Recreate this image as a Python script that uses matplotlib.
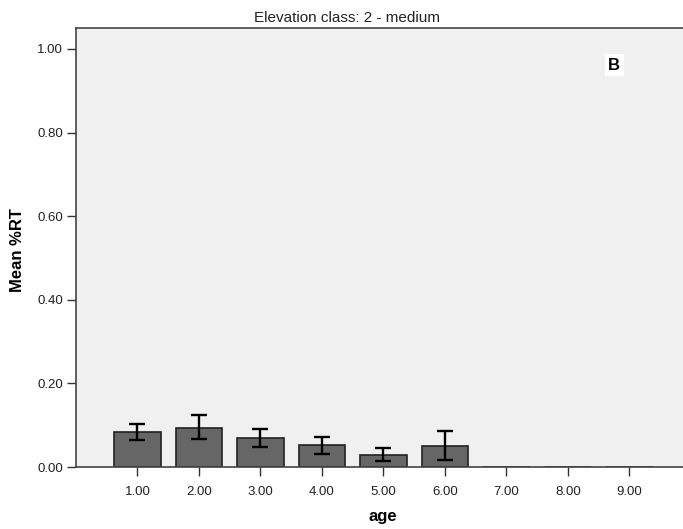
import matplotlib
matplotlib.use("Agg")
import matplotlib.pyplot as plt
import numpy as np

plt.rcParams['font.family'] = ['Liberation Sans', 'DejaVu Sans']

# Mean %RT by age class, with error bar limits
ages = [1, 2, 3, 4, 5, 6, 7, 8, 9]
age_labels = ["1.00", "2.00", "3.00", "4.00", "5.00", "6.00", "7.00", "8.00", "9.00"]
mean_rt = [0.083, 0.094, 0.070, 0.052, 0.029, 0.051, 0.0, 0.0, 0.0]
err_low = [0.065, 0.066, 0.049, 0.031, 0.014, 0.016, 0.0, 0.0, 0.0]
err_high = [0.102, 0.124, 0.091, 0.072, 0.046, 0.087, 0.0, 0.0, 0.0]
y_ticks = [0.0, 0.2, 0.4, 0.6, 0.8, 1.0]
y_tick_labels = ["0.00", "0.20", "0.40", "0.60", "0.80", "1.00"]

W, H = 683, 529
fig = plt.figure(figsize=(W / 100, H / 100), dpi=100)
ax = fig.add_axes([76 / W, 1 - 467 / H, 1 - 76 / W, (467 - 28) / H])
ax.set_facecolor("#f0f0f0")

ax.bar(ages, mean_rt, width=0.76, color="#666666", edgecolor="#222222",
       linewidth=1.2, zorder=2)

# Error bars only where the group has spread
idx = [i for i in range(len(ages)) if err_high[i] > err_low[i]]
x_err = [ages[i] for i in idx]
y_mid = [mean_rt[i] for i in idx]
lo = [mean_rt[i] - err_low[i] for i in idx]
hi = [err_high[i] - mean_rt[i] for i in idx]
ax.errorbar(x_err, y_mid, yerr=[lo, hi], fmt="none", ecolor="black",
            elinewidth=1.7, capsize=5.8, capthick=1.7, zorder=3)

ax.set_xlim(0, 9.87)
ax.set_ylim(0, 1.05)
ax.set_xticks(ages)
ax.set_xticklabels(age_labels)
ax.set_yticks(y_ticks)
ax.set_yticklabels(y_tick_labels)

ax.tick_params(axis="both", direction="out", length=6.5, width=1.0,
               color="#333333", labelsize=9.5, labelcolor="#222222")
ax.tick_params(axis="x", pad=7)
ax.tick_params(axis="y", pad=3)

ax.spines["right"].set_visible(False)
for side in ("left", "bottom", "top"):
    ax.spines[side].set_color("#444444")
    ax.spines[side].set_linewidth(1.2)

fig.text(347 / W, 1 - 18 / H, "Elevation class: 2 - medium", fontsize=11,
         color="#222222", ha="center", va="center")
fig.text(383 / W, 1 - 517 / H, "age", fontsize=12, fontweight="bold",
         ha="center", va="center")
fig.text(18 / W, 1 - 250 / H, "Mean %RT", fontsize=12, fontweight="bold",
         ha="center", va="center", rotation=90)

fig.text(614 / W, 1 - 65 / H, "B", fontsize=12, fontweight="bold",
         ha="center", va="center",
         bbox=dict(facecolor="white", edgecolor="none", pad=2.5))

fig.savefig("out.png", dpi=100)
